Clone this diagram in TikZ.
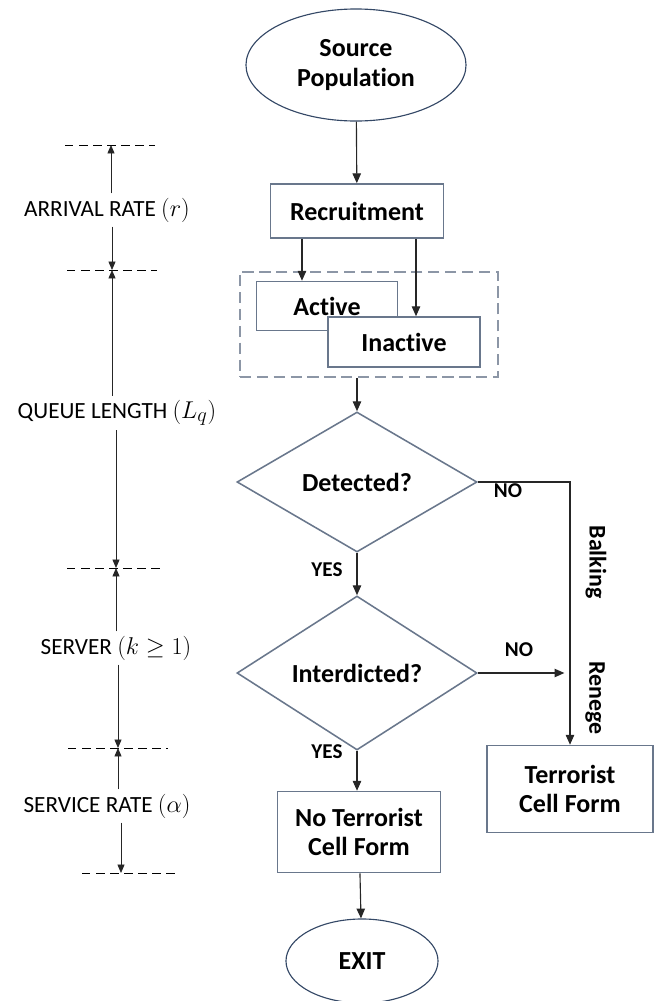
\documentclass[tikz,border=0pt]{standalone}
\usepackage{amsmath,amssymb}
\usepackage{fontspec}
\setmainfont{Carlito}[Ligatures=NoCommon]
\usetikzlibrary{shapes.geometric,arrows.meta}

\definecolor{boxline}{RGB}{105,119,140}
\definecolor{ovalline}{RGB}{52,72,102}
\definecolor{groupline}{RGB}{140,150,166}

\begin{document}
\begin{tikzpicture}[
  x=0.025cm,
  y=-0.025cm,
  flow/.style={draw=black!85, line width=0.8pt, -{Triangle[width=6pt,length=7pt]}},
  dimarrow/.style={draw=black!85, line width=0.6pt, -{Triangle[width=5pt,length=6pt]}},
  dimline/.style={draw=black, line width=0.6pt, dash pattern=on 6pt off 4pt},
  oval/.style={
    ellipse,
    draw=ovalline,
    line width=0.8pt,
    fill=white,
    align=center,
    inner sep=0pt,
    font=\fontsize{18.5}{21}\selectfont\bfseries
  },
  process/.style={
    rectangle,
    draw=boxline,
    line width=1.1pt,
    fill=white,
    align=center,
    inner sep=1pt,
    font=\fontsize{18.5}{21}\selectfont\bfseries
  },
  decision/.style={
    diamond,
    draw=boxline,
    line width=1.1pt,
    fill=white,
    inner sep=0pt,
    font=\fontsize{18.5}{21}\selectfont\bfseries
  },
  groupbox/.style={
    rectangle,
    draw=groupline,
    line width=1.2pt,
    dash pattern=on 8pt off 4pt
  },
  answer/.style={font=\fontsize{15}{17}\selectfont\bfseries, inner sep=1pt},
  sidelabel/.style={font=\fontsize{17}{19}\selectfont\bfseries, inner sep=1pt, rotate=-90},
  measure/.style={font=\fontsize{16.5}{19}\selectfont, inner sep=3pt}
]
\useasboundingbox (0,0) rectangle (665,1001);

% main flow, positions in pixels of the original figure
\node[oval, minimum width=5.5cm, minimum height=2.8cm] (src) at (356,65) {Source\\Population};
\node[process, minimum width=4.325cm, minimum height=1.35cm] (rec) at (357,211) {Recruitment};

\node[groupbox, minimum width=6.45cm, minimum height=2.625cm] (grp) at (369,324.5) {};
\node[process, minimum width=3.525cm, minimum height=1.225cm] (act) at (327,306) {Active};
\node[process, minimum width=3.8cm, minimum height=1.25cm] (inact) at (404,342) {Inactive};

\node[decision, minimum width=6cm, minimum height=3.5cm] (det) at (357,482) {Detected?};
\node[decision, minimum width=6cm, minimum height=3.85cm] (intd) at (357,673) {Interdicted?};

\node[process, minimum width=4.075cm, minimum height=2.025cm] (noform) at (359,832) {No Terrorist\\Cell Form};
\node[process, minimum width=4.15cm, minimum height=2.175cm] (form) at (570,789) {Terrorist\\Cell Form};
\node[oval, minimum width=3.8cm, minimum height=2.1cm] (exit) at (362,961) {EXIT};

\node[answer] (no1) at (508,491) {NO};
\node[answer] (no2) at (519,650) {NO};
\node[answer] (yes1) at (327,570) {YES};
\node[answer] (yes2) at (327,752) {YES};
\node[sidelabel] (balk) at (596,562) {Balking};
\node[sidelabel] (ren) at (595,698) {Renege};

\path ([xshift=-1.375cm]rec.south) coordinate (r1);
\path ([xshift=1.475cm]rec.south) coordinate (r2);

\draw[flow] (src) -- (rec);
\draw[flow] (r1) -- (r1 |- act.north);
\draw[flow] (r2) -- (r2 |- inact.north);
\draw[flow] (grp.south -| det.north) -- (det.north);
\draw[flow] (det) -- (intd);
\draw[flow] (det.east) -| (form.north);
\draw[flow, shorten >=4pt] (intd.east) -- (intd.east -| form.north);
\draw[flow] (intd) -- (intd.south |- noform.north);
\draw[flow] (noform) -- (exit);

% measures on the left
\coordinate (t0) at (111,145);
\coordinate (t1) at (112,270);
\coordinate (t2) at (116,568);
\coordinate (t3) at (118,748);
\coordinate (t4) at (121,873);

\draw[dimline] (65,145) -- (155,145);
\draw[dimline] (67,270) -- (157,270);
\draw[dimline] (67,568) -- (165,568);
\draw[dimline] (68,748) -- (168,748);
\draw[dimline] (82,873) -- (180,873);

\node[measure] (arr) at (107,210) {ARRIVAL RATE {\fontsize{19}{22}\selectfont$(r)$}};
\node[measure] (ql) at (117,413) {QUEUE LENGTH {\fontsize{19}{22}\selectfont$(L_q)$}};
\node[measure] (srv) at (116,648) {SERVER {\fontsize{19}{22}\selectfont$(k \geq 1)$}};
\node[measure] (srate) at (107,806) {SERVICE RATE {\fontsize{19}{22}\selectfont$(\alpha)$}};

\draw[dimarrow] (arr.north -| t0) -- (t0);
\draw[dimarrow] (arr.south -| t1) -- (t1);
\draw[dimarrow] (ql.north -| t1) -- (t1);
\draw[dimarrow] (ql.south -| t2) -- (t2);
\draw[dimarrow] (srv.north -| t2) -- (t2);
\draw[dimarrow] (srv.south -| t3) -- (t3);
\draw[dimarrow] (srate.north -| t3) -- (t3);
\draw[dimarrow] (srate.south -| t4) -- (t4);

\end{tikzpicture}
\end{document}
